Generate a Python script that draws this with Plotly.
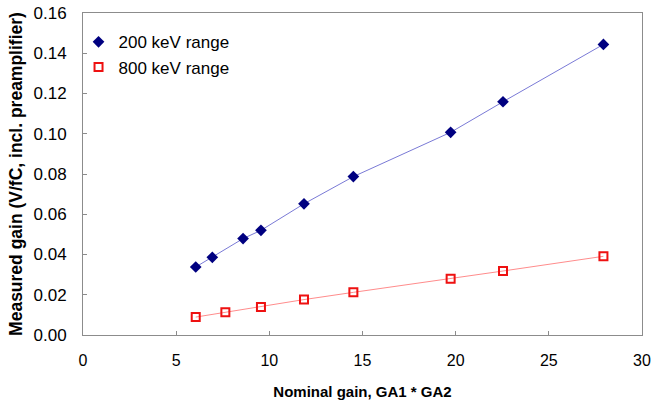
import plotly.graph_objects as go

x200 = [6.05, 6.94, 8.59, 9.55, 11.86, 14.51, 19.73, 22.54, 27.93]
y200 = [0.0338, 0.0386, 0.0479, 0.0520, 0.0652, 0.0787, 0.1007, 0.1159, 0.1444]
x800 = [6.05, 7.64, 9.55, 11.86, 14.51, 19.73, 22.54, 27.93]
y800 = [0.0089, 0.0113, 0.0139, 0.0176, 0.0212, 0.0280, 0.0318, 0.0391]

xticks = [0, 5, 10, 15, 20, 25, 30]
yticks = [0.00, 0.02, 0.04, 0.06, 0.08, 0.10, 0.12, 0.14, 0.16]

font = "Liberation Sans, Arial, sans-serif"

fig = go.Figure()
fig.add_trace(go.Scatter(x=x200, y=y200, mode="lines", line=dict(color="#7a7ad6", width=1),
                         showlegend=False, hoverinfo="skip"))
fig.add_trace(go.Scatter(x=x800, y=y800, mode="lines", line=dict(color="#ff8c8c", width=1),
                         showlegend=False, hoverinfo="skip"))
fig.add_trace(go.Scatter(x=x200, y=y200, mode="markers", name="200 keV range",
                         marker=dict(symbol="diamond", size=9, color="#000080")))
fig.add_trace(go.Scatter(x=x800, y=y800, mode="markers", name="800 keV range",
                         marker=dict(symbol="square-open", size=8, color="#ee1111",
                                     line=dict(width=2, color="#ee1111"))))

axis_common = dict(showline=True, linecolor="#8c8c8c", linewidth=1, mirror=True,
                   ticks="inside", ticklen=4, tickcolor="#8c8c8c", showgrid=False,
                   zeroline=False, automargin=False)

fig.update_xaxes(range=[0, 30], tickvals=xticks, ticktext=[str(v) for v in xticks],
                 tickfont=dict(family=font, size=16, color="black"), ticklabelstandoff=11,
                 title=dict(text="<b>Nominal gain, GA1 * GA2</b>", font=dict(family=font, size=15, color="black"),
                            standoff=18),
                 **axis_common)
fig.update_yaxes(range=[0, 0.16], tickvals=yticks, ticktext=[f"{v:.2f}" for v in yticks],
                 tickfont=dict(family=font, size=17, color="black"), ticklabelstandoff=12,
                 title=dict(text="<b>Measured gain (V/fC, incl. preamplifier)</b>",
                            font=dict(family=font, size=17.5, color="black"), standoff=6),
                 **axis_common)

fig.update_layout(
    width=662, height=400,
    margin=dict(l=83, r=20, t=13, b=65),
    plot_bgcolor="white", paper_bgcolor="white",
    font=dict(family=font, size=15, color="black"),
    legend=dict(x=-0.008, y=0.965, xanchor="left", yanchor="top", bgcolor="rgba(0,0,0,0)",
                font=dict(family=font, size=17, color="black"), tracegroupgap=0, itemwidth=30),
)

fig.write_html("out.html")
